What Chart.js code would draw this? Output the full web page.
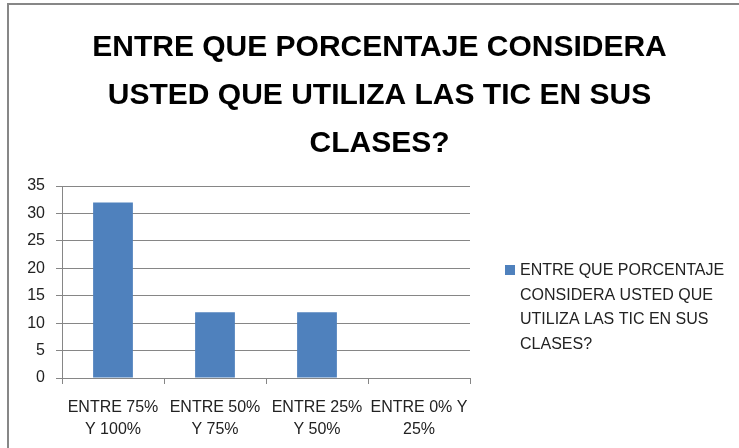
<!DOCTYPE html>
<html lang="es">
<head>
    <meta charset="UTF-8">
    <title>TIC en clases</title>
    <script src="https://cdn.jsdelivr.net/npm/chart.js"></script>
    <style>
        html, body { margin: 0; padding: 0; background: #fff; overflow: hidden; }
        .frame {
            position: absolute; left: 7px; top: 3px; width: 732px; height: 445px;
            border-top: 2px solid #878787; border-left: 2px solid #878787; box-sizing: border-box;
        }
        .wrap { position: absolute; left: 0; top: 0; width: 739px; height: 448px; }
    </style>
</head>
<body>
    <div class="frame"></div>
    <div class="wrap"><canvas id="grafico" width="739" height="448"></canvas></div>
    <script>
        // datos
        const categorias = [
            ['ENTRE 75%', 'Y 100%'],
            ['ENTRE 50%', 'Y 75%'],
            ['ENTRE 25%', 'Y 50%'],
            ['ENTRE 0% Y', '25%']
        ];
        const valores = [32, 12, 12, 0];
        const serie = 'ENTRE QUE PORCENTAJE CONSIDERA USTED QUE UTILIZA LAS TIC EN SUS CLASES?';
        const leyendaLineas = ['ENTRE QUE PORCENTAJE', 'CONSIDERA USTED QUE', 'UTILIZA LAS TIC EN SUS', 'CLASES?'];
        const titulo = ['ENTRE QUE PORCENTAJE CONSIDERA', 'USTED QUE UTILIZA LAS TIC EN SUS', 'CLASES?'];

        const fuente = "'Liberation Sans', Arial, sans-serif";
        const gris = '#868686';

        // leyenda dibujada a mano en el espacio de la derecha
        const leyendaPlugin = {
            id: 'leyendaDerecha',
            afterDraw(chart) {
                const ctx = chart.ctx;
                const ds = chart.data.datasets[0];
                ctx.save();
                ctx.fillStyle = ds.backgroundColor;
                ctx.fillRect(505, 265, 10, 10);
                ctx.fillStyle = '#222';
                ctx.font = '16px ' + fuente;
                ctx.textBaseline = 'middle';
                leyendaLineas.forEach((t, i) => ctx.fillText(t, 520, 271 + i * 24.5));
                ctx.restore();
            }
        };

        new Chart(document.getElementById('grafico'), {
            type: 'bar',
            data: {
                labels: categorias,
                datasets: [{
                    label: serie,
                    data: valores,
                    backgroundColor: '#4F81BD',
                    categoryPercentage: 1,
                    barPercentage: 0.39
                }]
            },
            options: {
                responsive: false,
                animation: false,
                layout: { padding: { left: 20, right: 0, top: 0, bottom: 0 } },
                plugins: {
                    legend: { display: false },
                    tooltip: { enabled: false },
                    title: {
                        display: true,
                        text: titulo,
                        color: '#000',
                        font: { family: fuente, size: 30, weight: 'bold', lineHeight: 1.6 },
                        padding: { top: 24, bottom: 18 }
                    }
                },
                scales: {
                    x: {
                        grid: { offset: true, drawOnChartArea: false, drawTicks: true, tickLength: 6, color: gris },
                        border: { color: gris },
                        ticks: {
                            color: '#222', padding: 13, maxRotation: 0, autoSkip: false,
                            font: { family: fuente, size: 16, lineHeight: 1.375 }
                        },
                        afterFit: s => { s.height = 70; }
                    },
                    y: {
                        min: 0, max: 35,
                        grid: { color: gris, tickLength: 6 },
                        border: { color: gris },
                        ticks: {
                            stepSize: 5, color: '#222', padding: 11,
                            font: { family: fuente, size: 16 }
                        },
                        afterFit: s => { s.width = 42; }
                    },
                    espacio: {
                        type: 'linear', position: 'right', display: true,
                        grid: { display: false }, border: { display: false },
                        ticks: { display: false },
                        afterFit: s => { s.width = 269; }
                    }
                }
            },
            plugins: [leyendaPlugin]
        });
    </script>
</body>
</html>
